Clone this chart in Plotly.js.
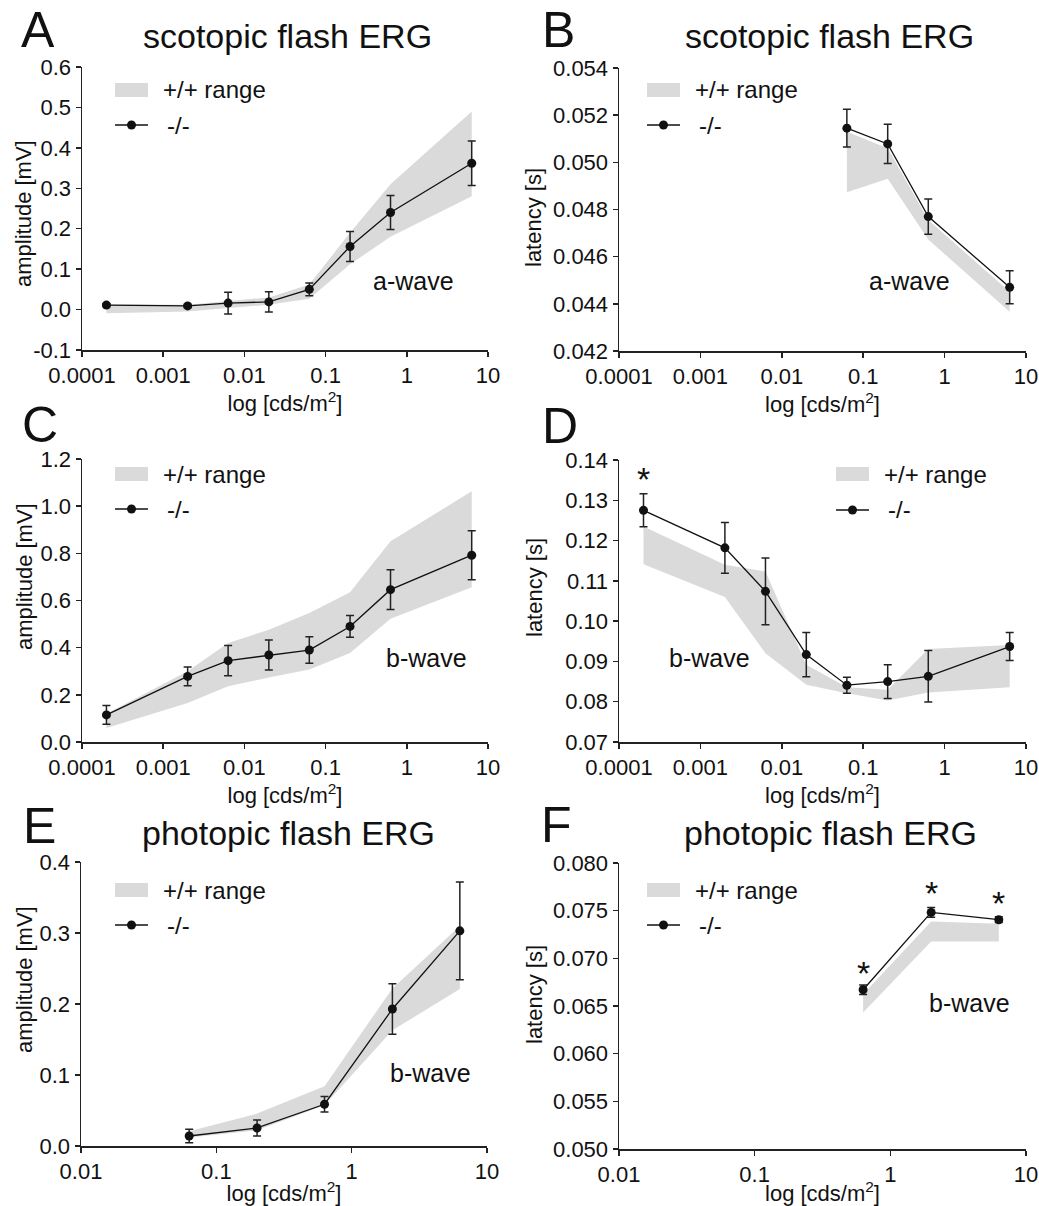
<!DOCTYPE html>
<html><head><meta charset="utf-8">
<script src="https://cdn.plot.ly/plotly-3.0.1.min.js"></script>
<style>html,body{margin:0;padding:0;background:#fff}#chart{width:1039px;height:1206px}</style>
</head><body><div id="chart"></div>
<script>
// ---------- data ----------
const scotX = [0.0002, 0.002, 0.0063, 0.02, 0.063, 0.2, 0.63, 6.3];
const scotLatX = [0.063, 0.2, 0.63, 6.3];
const photX = [0.063, 0.2, 0.63, 2, 6.3];
const photLatX = [0.63, 2, 6.3];

// A: scotopic a-wave amplitude [mV]
const aAmpKO  = [0.011, 0.009, 0.016, 0.019, 0.050, 0.156, 0.240, 0.362];
const aAmpErr = [0.004, 0.004, 0.027, 0.025, 0.016, 0.037, 0.042, 0.055];
const aAmpWtHi = [0.013, 0.012, 0.021, 0.030, 0.062, 0.190, 0.310, 0.490];
const aAmpWtLo = [-0.009, -0.005, 0.004, 0.012, 0.027, 0.112, 0.180, 0.280];

// B: scotopic a-wave latency [s]
const aLatKO  = [0.05145, 0.05078, 0.04770, 0.04470];
const aLatErr = [0.00080, 0.00083, 0.00075, 0.00070];
const aLatWtHi = [0.05130, 0.05060, 0.04755, 0.04451];
const aLatWtLo = [0.04873, 0.04930, 0.04673, 0.04366];

// C: scotopic b-wave amplitude [mV]
const bAmpKO  = [0.115, 0.278, 0.345, 0.369, 0.390, 0.490, 0.646, 0.792];
const bAmpErr = [0.040, 0.040, 0.064, 0.064, 0.056, 0.046, 0.084, 0.104];
const bAmpWtHi = [0.120, 0.300, 0.420, 0.476, 0.547, 0.635, 0.851, 1.063];
const bAmpWtLo = [0.059, 0.165, 0.236, 0.274, 0.307, 0.377, 0.523, 0.656];

// D: scotopic b-wave latency [s]
const bLatKO  = [0.1275, 0.1182, 0.1074, 0.0917, 0.0841, 0.0850, 0.0863, 0.0937];
const bLatErr = [0.0041, 0.0063, 0.0083, 0.0055, 0.0020, 0.0042, 0.0064, 0.0035];
const bLatWtHi = [0.1235, 0.1140, 0.1123, 0.0892, 0.0836, 0.0830, 0.0931, 0.0941];
const bLatWtLo = [0.1141, 0.1060, 0.0920, 0.0842, 0.0821, 0.0803, 0.0823, 0.0836];

// E: photopic b-wave amplitude [mV]
const pAmpKO  = [0.0141, 0.0254, 0.0588, 0.193, 0.303];
const pAmpErr = [0.0094, 0.0113, 0.0108, 0.0355, 0.0687];
const pAmpWtHi = [0.0207, 0.0456, 0.0842, 0.222, 0.310];
const pAmpWtLo = [0.0118, 0.0221, 0.0574, 0.163, 0.221];

// F: photopic b-wave latency [s]
const pLatKO  = [0.0667, 0.07482, 0.07405];
const pLatErr = [0.0005, 0.0005, 0.0003];
const pLatWtHi = [0.06624, 0.07387, 0.07363];
const pLatWtLo = [0.06431, 0.07177, 0.07177];

// tick labels
const scotTickVals = [0.0001, 0.001, 0.01, 0.1, 1, 10];
const scotTickText = ['0.0001', '0.001', '0.01', '0.1', '1', '10'];
const photTickVals = [0.01, 0.1, 1, 10];
const photTickText = ['0.01', '0.1', '1', '10'];
const yTickValsA = [-0.1, 0, 0.1, 0.2, 0.3, 0.4, 0.5, 0.6];
const yTickTextA = ['-0.1', '0.0', '0.1', '0.2', '0.3', '0.4', '0.5', '0.6'];
const yTickValsB = [0.042, 0.044, 0.046, 0.048, 0.050, 0.052, 0.054];
const yTickTextB = ['0.042', '0.044', '0.046', '0.048', '0.050', '0.052', '0.054'];
const yTickValsC = [0, 0.2, 0.4, 0.6, 0.8, 1.0, 1.2];
const yTickTextC = ['0.0', '0.2', '0.4', '0.6', '0.8', '1.0', '1.2'];
const yTickValsD = [0.07, 0.08, 0.09, 0.10, 0.11, 0.12, 0.13, 0.14];
const yTickTextD = ['0.07', '0.08', '0.09', '0.10', '0.11', '0.12', '0.13', '0.14'];
const yTickValsE = [0, 0.1, 0.2, 0.3, 0.4];
const yTickTextE = ['0.0', '0.1', '0.2', '0.3', '0.4'];
const yTickValsF = [0.050, 0.055, 0.060, 0.065, 0.070, 0.075, 0.080];
const yTickTextF = ['0.050', '0.055', '0.060', '0.065', '0.070', '0.075', '0.080'];

const panelLetters = ['A', 'B', 'C', 'D', 'E', 'F'];
const scotTitle = 'scotopic flash ERG';
const photTitle = 'photopic flash ERG';
const xTitle = 'log [cds/m<sup>2</sup>]';
const ampTitle = 'amplitude [mV]';
const latTitle = 'latency [s]';
const legendWT = '+/+ range';
const legendKO = '-/-';

// ---------- layout helpers ----------
const W = 1039, H = 1206;
const FONT = 'Liberation Sans, Arial, Helvetica, sans-serif';
const INK = '#111';
const BAND = 'rgb(218,218,218)';
const px = v => v / W;
const py = v => 1 - v / H;

// plot boxes in pixels [left, right, top, bottom]
const boxes = {
  A: [82, 488, 67, 350],
  B: [619, 1026, 68, 351],
  C: [82, 488, 459, 742],
  D: [619, 1026, 460, 742],
  E: [81, 487, 862, 1146],
  F: [619, 1026, 863, 1149]
};

function xaxis(box, anchor, range, tv, tt, standoff) {
  return {
    type: 'log', domain: [px(box[0]), px(box[1])], anchor: anchor, range: range,
    tickmode: 'array', tickvals: tv, ticktext: tt,
    ticks: 'outside', ticklen: 5, tickwidth: 1.5, tickcolor: '#222',
    showline: true, linecolor: '#222', linewidth: 1.5,
    showgrid: false, zeroline: false, fixedrange: true,
    tickfont: {family: FONT, size: 22, color: INK},
    title: {text: xTitle, font: {family: FONT, size: 22, color: INK}, standoff: standoff}
  };
}
function yaxis(box, anchor, range, tv, tt) {
  return {
    domain: [py(box[3]), py(box[2])], anchor: anchor, range: range,
    tickmode: 'array', tickvals: tv, ticktext: tt,
    ticks: 'outside', ticklen: 5, tickwidth: 1.5, tickcolor: '#222',
    showline: true, linecolor: '#222', linewidth: 1.5,
    showgrid: false, zeroline: false, fixedrange: true,
    tickfont: {family: FONT, size: 22, color: INK}
  };
}

function panelTraces(xa, ya, xs, lo, hi, xk, ko, err) {
  return [
    {x: xs, y: lo, xaxis: xa, yaxis: ya, mode: 'lines', line: {width: 0, color: BAND},
     showlegend: false, hoverinfo: 'skip'},
    {x: xs, y: hi, xaxis: xa, yaxis: ya, mode: 'lines', line: {width: 0, color: BAND},
     fill: 'tonexty', fillcolor: BAND, showlegend: false, name: legendWT},
    {x: xk, y: ko, xaxis: xa, yaxis: ya, mode: 'lines+markers', name: legendKO,
     line: {color: INK, width: 1.3}, marker: {color: INK, size: 9},
     error_y: {type: 'data', array: err, symmetric: true, color: '#222', thickness: 1.5, width: 4},
     showlegend: false}
  ];
}

const data = [].concat(
  panelTraces('x', 'y', scotX, aAmpWtLo, aAmpWtHi, scotX, aAmpKO, aAmpErr),
  panelTraces('x2', 'y2', scotLatX, aLatWtLo, aLatWtHi, scotLatX, aLatKO, aLatErr),
  panelTraces('x3', 'y3', scotX, bAmpWtLo, bAmpWtHi, scotX, bAmpKO, bAmpErr),
  panelTraces('x4', 'y4', scotX, bLatWtLo, bLatWtHi, scotX, bLatKO, bLatErr),
  panelTraces('x5', 'y5', photX, pAmpWtLo, pAmpWtHi, photX, pAmpKO, pAmpErr),
  panelTraces('x6', 'y6', photLatX, pLatWtLo, pLatWtHi, photLatX, pLatKO, pLatErr)
);

// ---------- annotations ----------
const ann = [];
function txt(x, y, text, size, opts) {
  ann.push(Object.assign({xref: 'paper', yref: 'paper', x: px(x), y: py(y), text: text,
    showarrow: false, xanchor: 'center', yanchor: 'middle',
    font: {family: FONT, size: size, color: INK}}, opts || {}));
}
// panel letters
const letterPos = [[38, 30], [558, 30], [40, 425], [560, 426], [39, 826], [556, 825]];
panelLetters.forEach((l, i) => txt(letterPos[i][0], letterPos[i][1], l, 50, {height: 42}));
// titles
txt(287, 36, scotTitle, 34);
txt(829, 36, scotTitle, 34);
txt(288, 833, photTitle, 34);
txt(830, 833, photTitle, 34);
// y-axis titles
txt(24, 214, ampTitle, 22, {textangle: -90});
txt(534, 218, latTitle, 22, {textangle: -90});
txt(24, 577, ampTitle, 22, {textangle: -90});
txt(534, 588, latTitle, 22, {textangle: -90});
txt(24, 980, ampTitle, 22, {textangle: -90});
txt(534, 995, latTitle, 22, {textangle: -90});
// wave labels
txt(413, 281, 'a-wave', 25);
txt(909, 281, 'a-wave', 25);
txt(426, 658, 'b-wave', 25);
txt(709, 658, 'b-wave', 25);
txt(430, 1073, 'b-wave', 25);
txt(969, 1003, 'b-wave', 25);
// significance asterisks attached to data points
function star(xa, ya, x, y, shift) {
  ann.push({xref: xa, yref: ya, x: Math.log10(x), y: y, text: '*', showarrow: false,
    xanchor: 'center', yanchor: 'middle', yshift: shift,
    font: {family: FONT, size: 34, color: INK}});
}
star('x4', 'y4', scotX[0], bLatKO[0], 31);
star('x6', 'y6', photLatX[0], pLatKO[0], 17);
star('x6', 'y6', photLatX[1], pLatKO[1], 19);
star('x6', 'y6', photLatX[2], pLatKO[2], 17);

// ---------- legends (drawn per panel) ----------
const shapes = [];
function legend(x0, yRect, yLine) {
  shapes.push({type: 'rect', xref: 'paper', yref: 'paper', x0: px(x0), x1: px(x0 + 33),
    y0: py(yRect + 7), y1: py(yRect - 7), fillcolor: BAND, line: {width: 0}});
  shapes.push({type: 'line', xref: 'paper', yref: 'paper', x0: px(x0), x1: px(x0 + 33),
    y0: py(yLine), y1: py(yLine), line: {color: INK, width: 1.3}});
  shapes.push({type: 'circle', xref: 'paper', yref: 'paper', x0: px(x0 + 12), x1: px(x0 + 21),
    y0: py(yLine + 4.5), y1: py(yLine - 4.5), fillcolor: INK, line: {width: 0}});
  txt(x0 + 46, yRect, legendWT, 24, {xanchor: 'left'});
  txt(x0 + 50, yLine, legendKO, 24, {xanchor: 'left'});
}
legend(115, 90, 125);
legend(647, 90, 125);
legend(115, 474, 509);
legend(836, 474, 510);
legend(115, 890, 925);
legend(647, 890, 925);

const layout = {
  width: W, height: H,
  margin: {l: 0, r: 0, t: 0, b: 0},
  paper_bgcolor: '#fff', plot_bgcolor: 'rgba(0,0,0,0)',
  font: {family: FONT, color: INK},
  showlegend: false,
  xaxis:  xaxis(boxes.A, 'y',  [-4, 1], scotTickVals, scotTickText, 4),
  yaxis:  yaxis(boxes.A, 'x',  [-0.1, 0.6], yTickValsA, yTickTextA),
  xaxis2: xaxis(boxes.B, 'y2', [-4, 1], scotTickVals, scotTickText, 4),
  yaxis2: yaxis(boxes.B, 'x2', [0.042, 0.054], yTickValsB, yTickTextB),
  xaxis3: xaxis(boxes.C, 'y3', [-4, 1], scotTickVals, scotTickText, 2),
  yaxis3: yaxis(boxes.C, 'x3', [0, 1.2], yTickValsC, yTickTextC),
  xaxis4: xaxis(boxes.D, 'y4', [-4, 1], scotTickVals, scotTickText, 2),
  yaxis4: yaxis(boxes.D, 'x4', [0.07, 0.14], yTickValsD, yTickTextD),
  xaxis5: xaxis(boxes.E, 'y5', [-2, 1], photTickVals, photTickText, 2),
  yaxis5: yaxis(boxes.E, 'x5', [0, 0.4], yTickValsE, yTickTextE),
  xaxis6: xaxis(boxes.F, 'y6', [-2, 1], photTickVals, photTickText, 2),
  yaxis6: yaxis(boxes.F, 'x6', [0.05, 0.08], yTickValsF, yTickTextF),
  annotations: ann,
  shapes: shapes
};

Plotly.newPlot('chart', data, layout, {staticPlot: true, displayModeBar: false});
</script>
</body></html>
